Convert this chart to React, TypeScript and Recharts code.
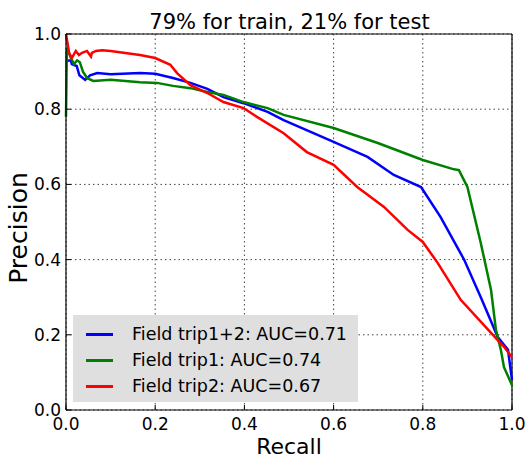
import React from 'react';
import { LineChart, Line, XAxis, YAxis, CartesianGrid, ReferenceLine, Legend } from 'recharts';

const ticks = [0, 0.2, 0.4, 0.6, 0.8, 1.0];

const bothRecall = [0, 0.011, 0.013, 0.024, 0.03, 0.043, 0.054, 0.07, 0.1, 0.166, 0.2, 0.24, 0.279, 0.317, 0.353, 0.398, 0.452, 0.488, 0.6, 0.676, 0.735, 0.796, 0.84, 0.893, 0.93, 0.968, 0.991, 1.0];
const bothPrecision = [0.928, 0.93, 0.92, 0.915, 0.89, 0.878, 0.89, 0.896, 0.893, 0.896, 0.894, 0.883, 0.87, 0.854, 0.832, 0.816, 0.793, 0.771, 0.713, 0.673, 0.625, 0.593, 0.513, 0.399, 0.3, 0.194, 0.16, 0.08];

const trip1Recall = [0, 0.002, 0.011, 0.018, 0.025, 0.031, 0.038, 0.047, 0.061, 0.1, 0.166, 0.204, 0.24, 0.279, 0.317, 0.353, 0.398, 0.452, 0.488, 0.6, 0.699, 0.8, 0.87, 0.881, 0.9, 0.93, 0.953, 0.964, 0.975, 0.982, 1.0];
const trip1Precision = [0.78, 0.963, 0.936, 0.92, 0.93, 0.925, 0.9, 0.883, 0.875, 0.878, 0.872, 0.87, 0.862, 0.856, 0.846, 0.838, 0.819, 0.803, 0.785, 0.75, 0.71, 0.665, 0.64, 0.638, 0.593, 0.444, 0.319, 0.213, 0.16, 0.114, 0.066];

const trip2Recall = [0, 0.007, 0.013, 0.022, 0.029, 0.036, 0.047, 0.056, 0.058, 0.067, 0.081, 0.1, 0.166, 0.2, 0.234, 0.249, 0.279, 0.317, 0.353, 0.398, 0.429, 0.488, 0.54, 0.6, 0.653, 0.713, 0.766, 0.8, 0.834, 0.885, 0.953, 0.982, 1.0];
const trip2Precision = [1.0, 0.95, 0.936, 0.955, 0.944, 0.95, 0.955, 0.94, 0.95, 0.955, 0.957, 0.955, 0.944, 0.936, 0.918, 0.896, 0.864, 0.843, 0.819, 0.803, 0.779, 0.736, 0.686, 0.652, 0.593, 0.54, 0.479, 0.447, 0.39, 0.293, 0.205, 0.168, 0.14];

const seriesNames = ['Field trip1+2: AUC=0.71', 'Field trip1: AUC=0.74', 'Field trip2: AUC=0.67'];
const seriesColors = ['#0000ff', '#008000', '#ff0000'];

const toPoints = (rs: number[], ps: number[]) => rs.map((r, i) => ({ r, p: ps[i] }));
const series = [
  toPoints(bothRecall, bothPrecision),
  toPoints(trip1Recall, trip1Precision),
  toPoints(trip2Recall, trip2Precision),
];

const FONT = '"DejaVu Sans", sans-serif';

const renderLegend = () => (
  <div style={{ background: '#dfdfdf', width: 285, height: 87, boxSizing: 'border-box', paddingTop: 6, fontFamily: FONT }}>
    {seriesNames.map((name, i) => (
      <div key={name} style={{ display: 'flex', alignItems: 'center', height: 26 }}>
        <div style={{ width: 27, height: 3, background: seriesColors[i], marginLeft: 13, marginRight: 19 }} />
        <span style={{ fontSize: 17.5, color: '#000', whiteSpace: 'nowrap' }}>{name}</span>
      </div>
    ))}
  </div>
);

export default function App() {
  return (
    <div style={{ position: 'absolute', left: 0, top: 0, width: 529, height: 460, background: '#fff' }}>
      <LineChart width={529} height={460} margin={{ top: 34, right: 17, bottom: 0, left: 0 }}>
        <CartesianGrid stroke="#444" strokeDasharray="1.5 3" strokeWidth={1} />
        <XAxis
          type="number"
          dataKey="r"
          domain={[0, 1]}
          ticks={ticks}
          tickFormatter={(v: number) => v.toFixed(1)}
          height={50}
          axisLine={{ stroke: '#000', strokeWidth: 1.2 }}
          tickLine={{ stroke: '#000' }}
          tickSize={-5}
          tickMargin={13}
          tick={{ fill: '#000', fontSize: 17, fontFamily: FONT }}
          interval={0}
          label={() => (
            <text x={289} y={454} textAnchor="middle" fontSize={22} fontFamily={FONT} fill="#000">Recall</text>
          )}
        />
        <YAxis
          type="number"
          dataKey="p"
          domain={[0, 1]}
          ticks={ticks}
          tickFormatter={(v: number) => v.toFixed(1)}
          width={66}
          axisLine={{ stroke: '#000', strokeWidth: 1.2 }}
          tickLine={{ stroke: '#000' }}
          tickSize={-5}
          tickMargin={10}
          tick={{ fill: '#000', fontSize: 17, fontFamily: FONT }}
          interval={0}
          label={() => (
            <text x={27} y={228} transform="rotate(-90 27 228)" textAnchor="middle" fontSize={25} fontFamily={FONT} fill="#000">Precision</text>
          )}
        />
        <ReferenceLine y={1} stroke="#000" strokeWidth={1.2} />
        <ReferenceLine x={1} stroke="#000" strokeWidth={1.2} />
        {series.map((data, i) => (
          <Line
            key={seriesNames[i]}
            data={data}
            dataKey="p"
            name={seriesNames[i]}
            type="linear"
            stroke={seriesColors[i]}
            strokeWidth={2.5}
            dot={false}
            isAnimationActive={false}
          />
        ))}
        <Legend
          layout="vertical"
          align="center"
          verticalAlign="middle"
          content={renderLegend}
          wrapperStyle={{ position: 'absolute', left: 73, top: 315, width: 285, height: 87 }}
        />
        <text x={289.5} y={29} textAnchor="middle" fontSize={21} fontFamily={FONT} fill="#000">79% for train, 21% for test</text>
      </LineChart>
    </div>
  );
}
